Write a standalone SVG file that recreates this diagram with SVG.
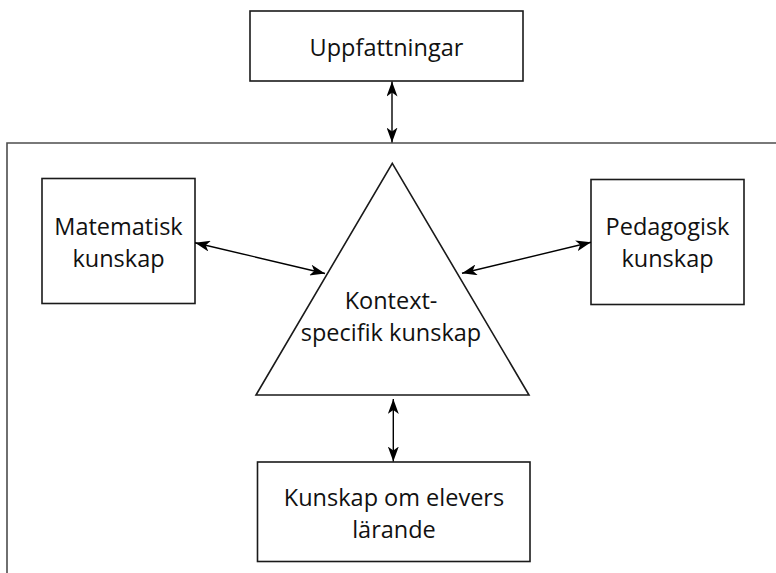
<svg xmlns="http://www.w3.org/2000/svg" width="776" height="573" viewBox="0 0 776 573">
<style>
.box{fill:#fff;stroke:#1a1a1a;stroke-width:1.6}
.frame{fill:none;stroke:#4d4d4d;stroke-width:1.6}
.lbl{font-family:"Open Sans","Noto Sans",sans-serif;font-size:23.5px;fill:#111;text-anchor:middle}
.con{stroke:#000;stroke-width:1.4;fill:none;marker-start:url(#ah);marker-end:url(#ah)}
</style>
<defs>
<marker id="ah" viewBox="0 0 15 11" refX="15" refY="5.5" markerWidth="15" markerHeight="11" markerUnits="userSpaceOnUse" orient="auto-start-reverse">
<path d="M0,0 L15,5.5 L0,11 L4,5.5 Z" fill="#000"/>
</marker>
</defs>
<path class="frame" d="M7,573 V143 H776"/>
<g id="uppfattningar">
<rect class="box" x="250" y="11" width="273" height="70"/>
<text class="lbl" x="386.5" y="56">Uppfattningar</text>
</g>
<g id="matematisk">
<rect class="box" x="42" y="178.5" width="153" height="125"/>
<text class="lbl" x="118.5" y="235">Matematisk</text>
<text class="lbl" x="118.5" y="267">kunskap</text>
</g>
<g id="pedagogisk">
<rect class="box" x="591" y="179.5" width="153" height="125"/>
<text class="lbl" x="667.5" y="235">Pedagogisk</text>
<text class="lbl" x="667.5" y="267">kunskap</text>
</g>
<g id="kontext">
<polygon class="box" points="392.3,163.3 529,395 256,395"/>
<text class="lbl" x="391" y="309">Kontext-</text>
<text class="lbl" x="391" y="341">specifik kunskap</text>
</g>
<g id="elevers">
<rect class="box" x="257.5" y="462" width="272.5" height="99.5"/>
<text class="lbl" x="394" y="506">Kunskap om elevers</text>
<text class="lbl" x="394" y="538">lärande</text>
</g>
<g id="connectors">
<line class="con" x1="392" y1="81.5" x2="392" y2="142.5"/>
<line class="con" x1="195" y1="242.7" x2="325" y2="273.5"/>
<line class="con" x1="462" y1="273.3" x2="591" y2="242.3"/>
<line class="con" x1="393.3" y1="399" x2="393.3" y2="461.5"/>
</g>
</svg>
